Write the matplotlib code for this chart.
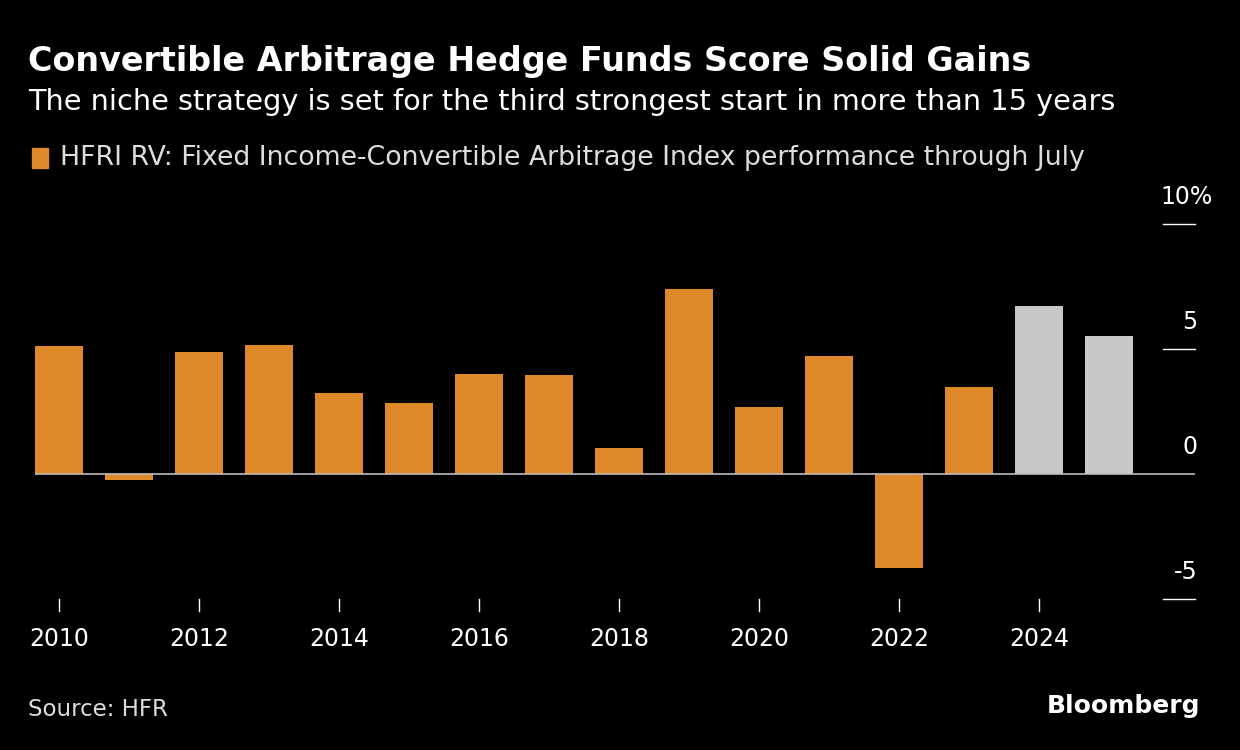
import matplotlib
matplotlib.use("Agg")
import matplotlib.pyplot as plt
import matplotlib.transforms as mt

years = list(range(2010, 2026))
values = [5.12, -0.24, 4.88, 5.16, 3.24, 2.84, 4.0, 3.96, 1.04, 7.4, 2.68, 4.72, -3.76, 3.48, 6.72, 5.52]
highlight = [2024, 2025]
yticks = [10, 5, 0, -5]
ytick_labels = ["10%", "5", "0", "-5"]
xticks = list(range(2010, 2025, 2))

W, H = 1240, 750
fig = plt.figure(figsize=(12.4, 7.5), dpi=100, facecolor="black")
ax = fig.add_axes([35/W, 1-599/H, 1160/W, 375/H], facecolor="black")
ax.set_xlim(2009.66, 2026.23)
ax.set_ylim(-5, 10)
cols = ["#c8c8c8" if y in highlight else "#e0892a" for y in years]
ax.bar(years, values, width=0.69, color=cols, zorder=2)
ax.axhline(0, color="#bbbbbb", lw=1.2, zorder=3)
for s in ax.spines.values():
    s.set_visible(False)
ax.set_xticks([]); ax.set_yticks([])
bt = mt.blended_transform_factory(ax.transAxes, ax.transData)
for v, lab in zip(yticks, ytick_labels):
    if v != 0:
        ax.plot([1163/1160 - 35/1160, 1.0], [v, v], transform=bt, color="white", lw=1, clip_on=False)
    xr = 1.015 if lab.endswith("%") else 1.002
    ax.text(xr, v + 0.6, lab, transform=bt, ha="right", va="bottom", color="white", fontsize=17)
bx = mt.blended_transform_factory(ax.transData, ax.transAxes)
for x in xticks:
    ax.plot([x, x], [0, -12/375], transform=bx, color="white", lw=1, clip_on=False)
    ax.text(x, -28/375, str(x), transform=bx, ha="center", va="top", color="white", fontsize=17)

fig.text(28/W, 1-62/H, "Convertible Arbitrage Hedge Funds Score Solid Gains", color="white",
         fontsize=24, fontweight="heavy", va="center")
fig.text(28/W, 1-102/H, "The niche strategy is set for the third strongest start in more than 15 years",
         color="white", fontsize=20.7, va="center")
fig.patches.append(plt.Rectangle((32/W, 1-168/H), 16/W, 20/H, color="#e0892a", transform=fig.transFigure))
fig.text(60/W, 1-158/H, "HFRI RV: Fixed Income-Convertible Arbitrage Index performance through July",
         color="#dddddd", fontsize=19.3, va="center")
fig.text(28/W, 1-709/H, "Source: HFR", color="#dddddd", fontsize=16.5, va="center")
fig.text(1200/W, 1-706/H, "Bloomberg", color="white", fontsize=18, fontweight="bold", ha="right", va="center")
fig.savefig("out.png", facecolor="black")
